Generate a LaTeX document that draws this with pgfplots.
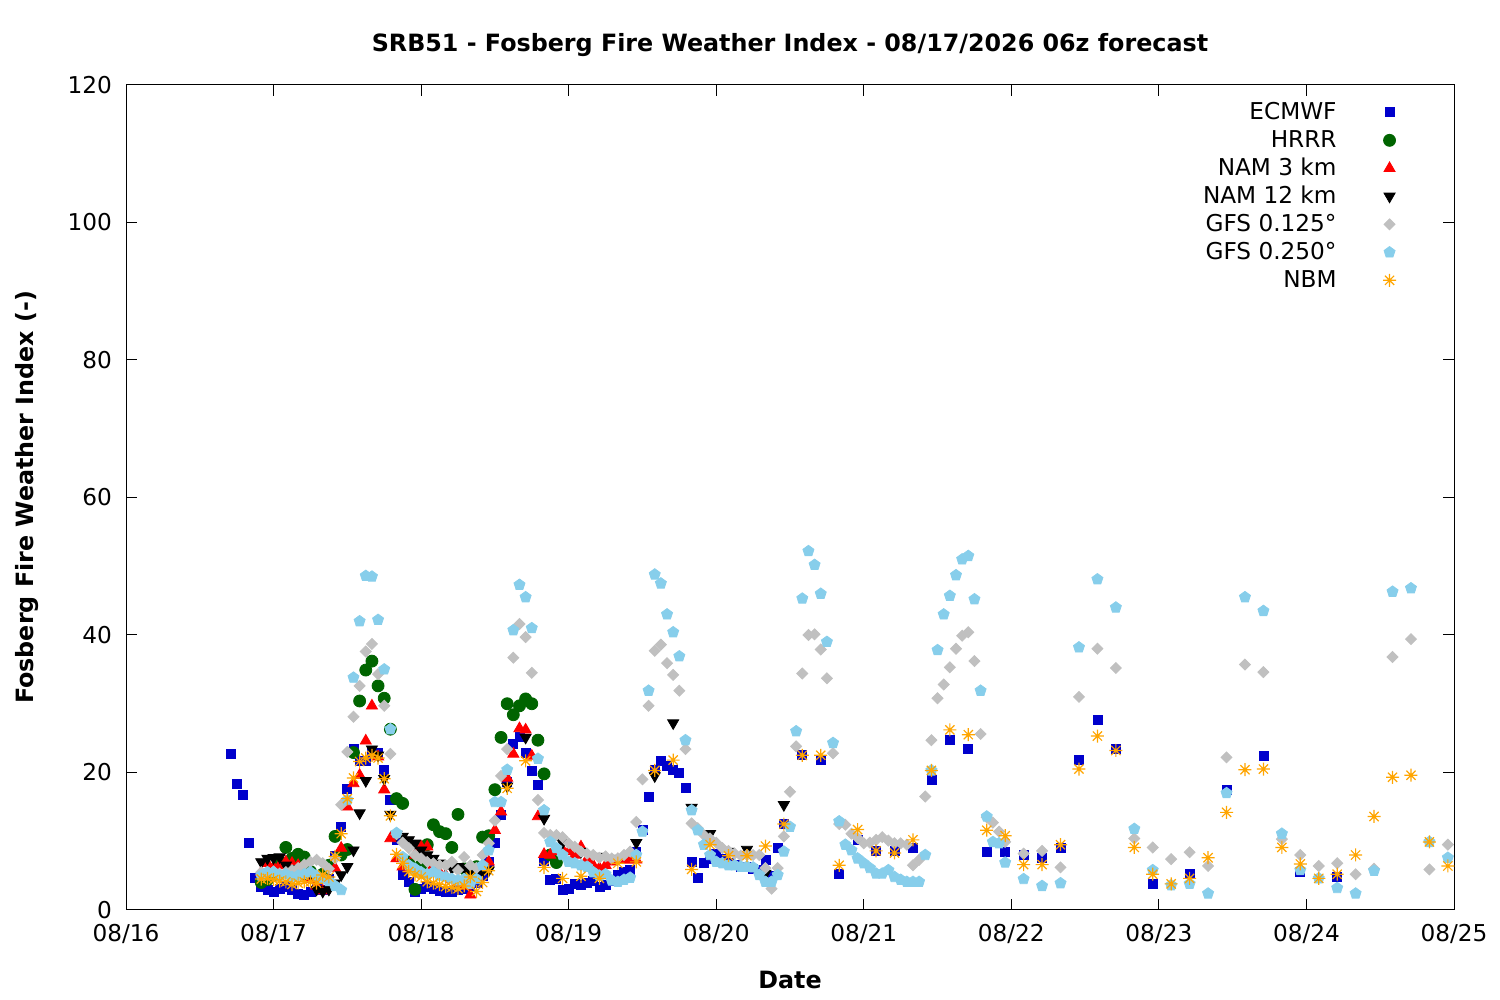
\documentclass[border=0pt]{standalone}
\usepackage{fontspec}
\setmainfont{DejaVu Sans}
\usepackage{pgfplots}
\pgfplotsset{compat=1.18}
\definecolor{ecblue}{RGB}{0,0,204}
\definecolor{hrrrgreen}{RGB}{0,100,0}
\definecolor{gfsgray}{RGB}{192,192,192}
\definecolor{gfsblue}{RGB}{135,206,235}
\definecolor{nbmorange}{RGB}{255,165,0}
\pgfdeclareplotmark{star8}{%
 \pgfpathmoveto{\pgfqpoint{\pgfplotmarksize}{0pt}}\pgfpathlineto{\pgfqpoint{-\pgfplotmarksize}{0pt}}%
 \pgfpathmoveto{\pgfqpoint{0pt}{\pgfplotmarksize}}\pgfpathlineto{\pgfqpoint{0pt}{-\pgfplotmarksize}}%
 \pgfpathmoveto{\pgfqpoint{.7071\pgfplotmarksize}{.7071\pgfplotmarksize}}\pgfpathlineto{\pgfqpoint{-.7071\pgfplotmarksize}{-.7071\pgfplotmarksize}}%
 \pgfpathmoveto{\pgfqpoint{-.7071\pgfplotmarksize}{.7071\pgfplotmarksize}}\pgfpathlineto{\pgfqpoint{.7071\pgfplotmarksize}{-.7071\pgfplotmarksize}}%
 \pgfusepathqstroke}
\begin{document}
\fontsize{11.6}{14}\selectfont
\begin{tikzpicture}
\path[use as bounding box] (0,0) rectangle (750pt,500pt);
\begin{axis}[
 at={(63pt,45pt)}, anchor=south west, scale only axis,
 width=664pt, height=412.5pt,
 xmin=0, xmax=216, ymin=0, ymax=120,
 xtick={0,24,...,216},
 xticklabels={08/16,08/17,08/18,08/19,08/20,08/21,08/22,08/23,08/24,08/25},
 ytick={0,20,...,120},
 tick align=inside, major tick length=5.5pt,
 tick style={black, line width=0.5pt},
 axis line style={line width=0.5pt},
 /pgf/number format/assume math mode=true,
 xticklabel style={yshift=-3pt},
 yticklabel style={xshift=-3pt},
 every axis title shift=0pt,
 title={SRB51 - Fosberg Fire Weather Index - 08/17/2026 06z forecast},
 title style={at={(axis description cs:0.5,1.0485)}, anchor=center, font=\fontsize{11.9}{14}\selectfont\bfseries},
 xlabel={Date},
 xlabel style={at={(axis description cs:0.5,-0.0848)}, anchor=center, font=\fontsize{11.9}{14}\selectfont\bfseries},
 ylabel={Fosberg Fire Weather Index (-)},
 ylabel style={at={(axis description cs:-0.0745,0.5)}, anchor=center, font=\fontsize{11.9}{14}\selectfont\bfseries},
 legend plot pos=right,
 legend cell align=right,
 legend image code/.code={\path[draw=none,fill=none] (-25.5pt,-1pt) rectangle (4pt,1pt); \draw[#1,draw=none] plot coordinates {(0pt,0pt)};},
 legend style={draw=none, fill=none, inner sep=0pt, row sep=0pt,
   at={(axis description cs:0.9578,0.9843)}, anchor=north east,
   nodes={inner sep=1pt, text height=9.5pt, text depth=2.5pt}},
]
\addplot[only marks, mark=square*, mark size=2.25pt, color=ecblue, mark options={fill=ecblue}] coordinates {
(17,22.7)(18,18.3)(19,16.7)(20,9.7)(21,4.6)(22,3.4)(23,2.9)(24,2.7)(25,3.1)(26,3.3)
(27,2.9)(28,2.4)(29,2.2)(30,2.6)(31,3.0)(32,2.9)(33,4.5)(34,7.8)(35,12.1)(36,17.6)
(37,23.5)(38,21.7)(39,21.7)(40,23.0)(41,22.8)(42,20.4)(43,16.0)(44,10.2)(45,5.1)(46,4.1)
(47,2.7)(48,3.0)(49,3.4)(50,3.1)(51,2.8)(52,2.6)(53,2.7)(54,2.9)(55,3.0)(56,3.3)
(57,3.9)(58,5.0)(59,7.0)(60,9.7)(61,13.8)(62,18.7)(63,24.1)(64,25.2)(65,22.8)(66,20.2)
(67,18.2)(68,7.2)(69,4.4)(70,4.5)(71,2.9)(72,3.1)(73,3.8)(74,3.6)(75,4.0)(76,4.3)
(77,3.4)(78,3.6)(79,4.2)(80,5.1)(81,5.5)(82,5.8)(83,8.5)(84,11.6)(85,16.4)(86,20.4)
(87,21.7)(88,21.0)(89,20.4)(90,19.9)(91,17.8)(92,7.0)(93,4.6)(94,6.8)(95,7.5)(96,8.2)
(97,7.4)(98,6.8)(99,6.5)(100,6.3)(101,6.2)(102,6.0)(103,5.8)(104,7.3)(105,5.0)(106,9.0)
(107,12.5)(110,22.5)(113,21.8)(116,5.2)(119,10.2)(122,8.6)(125,8.6)(128,9.1)(131,18.9)(134,24.8)
(137,23.4)(140,8.4)(143,8.4)(146,8.0)(149,7.6)(152,9.0)(155,21.9)(158,27.6)(161,23.5)(167,3.8)
(173,5.3)(179,17.5)(185,22.4)(191,5.6)(197,4.8)
};
\addlegendentry{ECMWF}
\addplot[only marks, mark=*, mark size=3pt, color=hrrrgreen, mark options={fill=hrrrgreen}] coordinates {
(22,4.0)(23,4.4)(24,5.0)(25,7.0)(26,9.1)(27,7.5)(28,8.1)(29,7.7)(30,5.6)(31,4.8)
(32,5.2)(33,6.5)(34,10.7)(35,8.0)(36,8.8)(37,22.9)(38,30.4)(39,34.9)(40,36.2)(41,32.6)
(42,30.8)(43,26.3)(44,16.2)(45,15.5)(46,7.0)(47,3.0)(48,6.5)(49,9.5)(50,12.4)(51,11.4)
(52,11.1)(53,9.1)(54,13.9)(55,6.0)(56,5.5)(57,6.3)(58,10.6)(59,10.8)(60,17.5)(61,25.1)
(62,30.0)(63,28.4)(64,29.7)(65,30.7)(66,30.0)(67,24.7)(68,19.8)(69,8.0)(70,6.9)
};
\addlegendentry{HRRR}
\addplot[only marks, mark=triangle*, mark size=3.2pt, color=red, mark options={fill=red}] coordinates {
(22,5.5)(23,6.8)(24,6.2)(25,6.5)(26,7.0)(27,6.8)(28,6.5)(29,5.0)(30,4.5)(31,3.5)
(32,2.8)(33,3.5)(34,6.1)(35,9.0)(36,15.0)(37,18.4)(38,19.6)(39,24.6)(40,29.7)(41,22.3)
(42,17.5)(43,10.4)(44,7.5)(45,6.3)(46,6.0)(47,8.0)(48,9.2)(49,9.2)(50,6.5)(51,5.5)
(52,5.0)(53,4.5)(54,4.0)(55,3.5)(56,2.2)(57,5.8)(58,6.5)(59,7.0)(60,11.6)(61,14.3)
(62,19.2)(63,22.7)(64,26.4)(65,26.2)(66,22.4)(67,13.6)(68,8.1)(69,8.0)(70,8.5)(71,8.8)
(72,8.5)(73,8.0)(74,9.2)(75,7.4)(76,6.5)(77,6.1)(78,6.5)(79,7.0)(80,7.3)(81,7.3)
(82,7.3)(83,7.3)
};
\addlegendentry{NAM 3 km}
\addplot[only marks, mark=triangle*, mark size=3.2pt, mark options={rotate=180, fill=black}, color=black] coordinates {
(22,7.0)(23,7.5)(24,7.6)(25,7.7)(26,6.5)(27,6.0)(28,5.5)(29,5.0)(30,5.3)(31,3.0)
(32,2.7)(33,3.0)(34,3.9)(35,5.1)(36,6.3)(37,8.7)(38,14.1)(39,18.8)(40,23.4)(41,22.5)
(42,19.1)(43,13.9)(44,11.0)(45,10.7)(46,10.2)(47,9.7)(48,8.7)(49,8.0)(50,7.5)(51,6.8)
(52,6.5)(53,6.1)(54,6.3)(55,6.1)(56,5.5)(57,5.5)(58,5.6)(59,5.8)(62,18.0)(65,25.1)
(68,13.3)(71,9.8)(74,8.5)(77,7.8)(80,7.5)(83,9.8)(86,19.5)(89,27.2)(92,14.9)(95,11.1)
(98,8.5)(101,8.8)(104,5.3)(107,15.3)
};
\addlegendentry{NAM 12 km}
\addplot[only marks, mark=square*, mark size=1.95pt, mark options={rotate=45, fill=gfsgray}, color=gfsgray] coordinates {
(22,5.5)(23,5.5)(24,5.6)(25,5.3)(26,5.5)(27,5.8)(28,6.1)(29,6.6)(30,7.0)(31,7.3)
(32,6.8)(33,6.0)(34,7.5)(35,15.3)(36,23.0)(37,28.1)(38,32.6)(39,37.6)(40,38.7)(41,34.3)
(42,29.7)(43,22.7)(44,11.0)(45,9.8)(46,9.0)(47,8.0)(48,7.5)(49,7.0)(50,6.8)(51,6.5)
(52,6.5)(53,7.0)(54,5.8)(55,7.7)(56,6.5)(57,6.1)(58,8.0)(59,9.7)(60,13.0)(61,19.5)
(62,23.4)(63,36.7)(64,41.6)(65,39.7)(66,34.5)(67,16.0)(68,11.2)(69,10.9)(70,10.9)(71,10.6)
(72,9.7)(73,9.2)(74,8.5)(75,8.2)(76,8.0)(77,7.6)(78,7.8)(79,7.5)(80,7.5)(81,8.0)
(82,8.5)(83,12.8)(84,19.0)(85,29.7)(86,37.7)(87,38.6)(88,35.9)(89,34.2)(90,31.9)(91,23.4)
(92,12.6)(93,11.9)(94,10.9)(95,10.4)(96,9.8)(97,9.0)(98,8.6)(99,8.2)(100,7.9)(101,8.0)
(102,8.0)(103,8.0)(104,6.1)(105,3.1)(106,6.1)(107,10.7)(108,17.2)(109,23.8)(110,34.4)(111,40.0)
(112,40.1)(113,37.9)(114,33.7)(115,22.8)(116,12.5)(117,12.4)(118,11.1)(119,10.5)(120,9.7)(121,9.8)
(122,10.2)(123,10.6)(124,10.1)(125,9.7)(126,9.7)(127,9.5)(128,6.5)(129,7.3)(130,16.5)(131,24.7)
(132,30.8)(133,32.8)(134,35.3)(135,38.0)(136,39.9)(137,40.4)(138,36.2)(139,25.6)(140,13.5)(141,12.7)
(142,11.4)(143,9.9)(146,8.2)(149,8.6)(152,6.2)(155,31.0)(158,38.0)(161,35.2)(164,10.4)(167,9.1)
(170,7.4)(173,8.4)(176,6.4)(179,22.2)(182,35.7)(185,34.6)(188,10.3)(191,8.0)(194,6.4)(197,6.8)
(200,5.2)(203,6.0)(206,36.8)(209,39.4)(212,5.9)(215,9.5)
};
\addlegendentry{GFS 0.125°}
\addplot[only marks, mark=pentagon*, mark size=2.9pt, color=gfsblue, mark options={fill=gfsblue}] coordinates {
(22,5.0)(23,5.5)(24,5.5)(25,5.0)(26,5.2)(27,4.8)(28,5.0)(29,5.2)(30,5.5)(31,5.0)
(32,4.5)(33,4.2)(34,3.5)(35,2.9)(36,16.0)(37,33.8)(38,42.0)(39,48.6)(40,48.5)(41,42.2)
(42,35.0)(43,26.3)(44,11.2)(45,7.7)(46,6.5)(47,6.0)(48,5.5)(49,5.2)(50,5.5)(51,5.0)
(52,4.8)(53,4.5)(54,4.3)(55,4.5)(56,3.8)(57,4.5)(58,6.5)(59,8.7)(60,15.7)(61,15.7)
(62,20.4)(63,40.7)(64,47.3)(65,45.5)(66,41.0)(67,22.0)(68,14.5)(69,9.9)(70,9.0)(71,8.0)
(72,7.0)(73,6.8)(74,6.5)(75,6.3)(76,5.5)(77,5.0)(78,5.2)(79,4.3)(80,4.1)(81,4.4)
(82,4.7)(83,8.0)(84,11.4)(85,31.9)(86,48.8)(87,47.5)(88,43.0)(89,40.4)(90,36.9)(91,24.7)
(92,14.5)(93,11.6)(94,9.5)(95,8.0)(96,7.0)(97,6.8)(98,6.5)(99,6.5)(100,6.3)(101,6.3)
(102,6.2)(103,5.1)(104,4.1)(105,4.1)(106,5.1)(107,8.5)(108,12.1)(109,26.0)(110,45.3)(111,52.2)
(112,50.2)(113,46.0)(114,39.0)(115,24.3)(116,12.9)(117,9.5)(118,8.7)(119,7.5)(120,6.8)(121,6.1)
(122,5.3)(123,5.3)(124,5.8)(125,4.8)(126,4.4)(127,4.1)(128,4.1)(129,4.1)(130,8.0)(131,20.3)
(132,37.8)(133,43.0)(134,45.7)(135,48.7)(136,51.0)(137,51.5)(138,45.2)(139,31.9)(140,13.6)(141,9.9)
(142,9.7)(143,6.9)(146,4.5)(149,3.5)(152,3.9)(155,38.2)(158,48.1)(161,44.0)(164,11.8)(167,5.8)
(170,3.6)(173,3.8)(176,2.4)(179,17.0)(182,45.5)(185,43.5)(188,11.1)(191,5.8)(194,4.6)(197,3.2)
(200,2.4)(203,5.7)(206,46.3)(209,46.8)(212,9.9)(215,7.6)
};
\addlegendentry{GFS 0.250°}
\addplot[only marks, mark=star8, mark size=3.25pt, line width=0.6pt, color=nbmorange] coordinates {
(22,4.5)(23,4.6)(24,4.4)(25,4.2)(26,4.1)(27,3.7)(28,3.9)(29,4.1)(30,4.1)(31,3.9)
(32,5.1)(33,4.8)(34,7.8)(35,11.1)(36,16.2)(37,19.2)(38,21.6)(39,22.1)(40,22.5)(41,22.1)
(42,19.1)(43,13.7)(44,8.1)(45,6.8)(46,5.6)(47,5.1)(48,4.8)(49,4.1)(50,3.9)(51,3.7)
(52,3.4)(53,3.3)(54,3.1)(55,3.5)(56,4.8)(57,2.7)(58,4.0)(59,5.7)(62,17.7)(65,21.7)
(68,6.2)(71,4.6)(74,4.9)(77,4.6)(80,6.8)(83,7.0)(86,20.3)(89,21.8)(92,5.9)(95,9.5)
(98,7.9)(101,7.9)(104,9.3)(107,12.5)(110,22.5)(113,22.5)(116,6.5)(119,11.7)(122,8.6)(125,8.3)
(128,10.2)(131,20.3)(134,26.2)(137,25.5)(140,11.6)(143,10.8)(146,6.6)(149,6.6)(152,9.5)(155,20.5)
(158,25.3)(161,23.2)(164,9.1)(167,5.2)(170,3.8)(173,4.6)(176,7.6)(179,14.2)(182,20.4)(185,20.5)
(188,9.1)(191,6.7)(194,4.6)(197,5.2)(200,8.0)(203,13.6)(206,19.3)(209,19.6)(212,9.9)(215,6.4)
};
\addlegendentry{NBM}
\end{axis}
\end{tikzpicture}
\end{document}
